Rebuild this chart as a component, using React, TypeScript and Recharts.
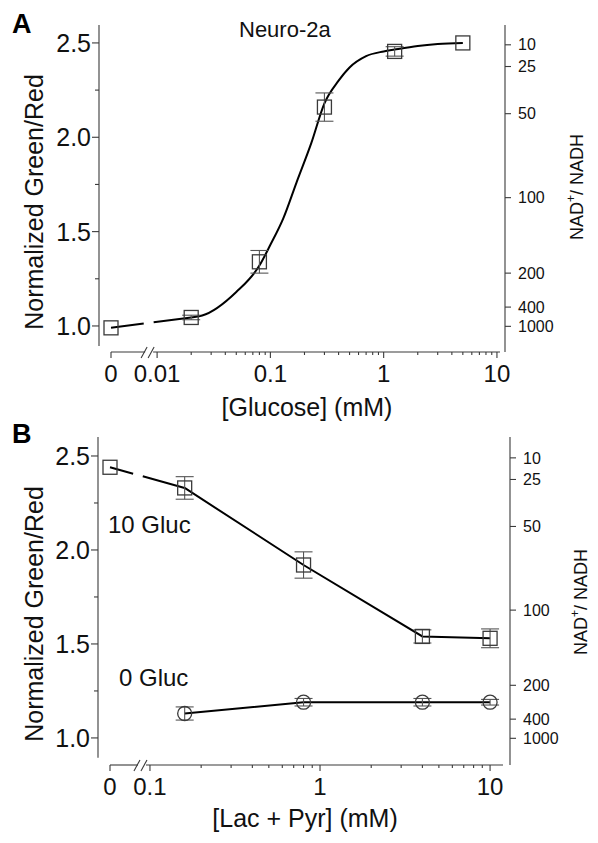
import React from "react";
import {
  ComposedChart,
  Line,
  Scatter,
  ErrorBar,
  XAxis,
  YAxis,
  ReferenceLine,
} from "recharts";

const FONT = '"Liberation Sans", Arial, Helvetica, sans-serif';
const AXIS = "#3a3a3a";
const INK = "#111";

// Panel A – Neuro-2a, glucose titration
const glucoseMM = [0, 0.02, 0.08, 0.3, 1.25, 5];
const glucoseRatio = [0.99, 1.045, 1.34, 2.16, 2.455, 2.5];
const glucoseErr = [0, 0.012, 0.06, 0.075, 0.025, 0];
const glucoseFitMM = [0.02, 0.025, 0.05, 0.08, 0.1, 0.13, 0.17, 0.23, 0.3, 0.4, 0.5, 0.7, 1, 1.25, 2, 3, 5];
const glucoseFitRatio = [1.045, 1.055, 1.18, 1.32, 1.43, 1.57, 1.76, 1.97, 2.18, 2.3, 2.37, 2.43, 2.455, 2.465, 2.484, 2.494, 2.5];
const glucoseMajors = [0, 0.01, 0.1, 1, 10];
const glucoseMajorLabels = ["0", "0.01", "0.1", "1", "10"];

// Panel B – lactate + pyruvate, with 10 mM or 0 glucose
const lacPyrMM = [0, 0.16, 0.8, 4, 10];
const gluc10Ratio = [2.44, 2.33, 1.92, 1.54, 1.53];
const gluc10Err = [0, 0.06, 0.07, 0.035, 0.05];
const gluc0MM = [0.16, 0.8, 4, 10];
const gluc0Ratio = [1.13, 1.19, 1.19, 1.19];
const gluc0Err = [0.035, 0.02, 0.02, 0.015];
const lacPyrMajors = [0, 0.1, 1, 10];
const lacPyrMajorLabels = ["0", "0.1", "1", "10"];

// y axes (shared by both panels)
const ratioTicks = [1.0, 1.25, 1.5, 1.75, 2.0, 2.25, 2.5];
const nadTickAt = [2.49, 2.375, 2.125, 1.68, 1.28, 1.1, 0.998];
const nadLabels = ["10", "25", "50", "100", "200", "400", "1000"];

type Row = { pos: number; y: number; err: number };

const near = (a: number, b: number) => Math.abs(a - b) < 1e-6;

interface MarkerSet {
  shape: "square" | "circle";
  mm: number[];
  ratio: number[];
  err: number[];
}

interface PathSet {
  mm: number[];
  ratio: number[];
  dash?: string;
  curve?: "monotone" | "linear";
}

interface PanelProps {
  height: number;
  plot: { left: number; right: number; top: number; bottom: number };
  zeroPos: number;
  endPos: number;
  padL: number;
  padR: number;
  yDomain: [number, number];
  yAxisEnd: number;
  majors: number[];
  majorLabels: string[];
  markers: MarkerSet[];
  paths: PathSet[];
}

function Panel(p: PanelProps) {
  const W = 598;
  const pos = (x: number) => (x === 0 ? p.zeroPos : Math.log10(x));
  const pxPerUnit = (p.plot.right - p.plot.left - p.padL - p.padR) / (p.endPos - p.zeroPos);

  // broken log axis: 0, a "//" break, then decades with 2..9 minor ticks
  const positive = p.majors.filter((m) => m > 0);
  const breakPos = Math.log10(positive[0]) - 8 / pxPerUnit;
  const gap = 4 / pxPerUnit;
  const minors: number[] = [];
  positive.slice(0, -1).forEach((m) => {
    for (let k = 2; k <= 9; k++) minors.push(Math.log10(m * k));
  });
  const majorPos = p.majors.map(pos);
  const xTicks = [...majorPos, breakPos, ...minors].sort((a, b) => a - b);

  const leftEdge = p.zeroPos - p.padL / pxPerUnit;
  const [yMin, yMax] = p.yDomain;

  const rows = (mm: number[], ratio: number[], err?: number[]): Row[] =>
    mm.map((x, i) => ({ pos: pos(x), y: ratio[i], err: err ? err[i] : 0 }));

  const renderXTick = (props: any) => {
    const { x, y, payload } = props;
    const v = payload.value;
    if (near(v, breakPos)) {
      return (
        <g stroke={AXIS} strokeWidth={1.1}>
          <line x1={x - 8} y1={y + 6} x2={x - 2} y2={y - 5} />
          <line x1={x - 1} y1={y + 6} x2={x + 5} y2={y - 5} />
        </g>
      );
    }
    const mi = majorPos.findIndex((m) => near(m, v));
    if (mi >= 0) {
      return (
        <g>
          <line x1={x} x2={x} y1={y} y2={y + 6} stroke={AXIS} strokeWidth={1.1} />
          <text x={x} y={y + 30} textAnchor="middle" fontSize={24} fontFamily={FONT} fill={INK}>
            {p.majorLabels[mi]}
          </text>
        </g>
      );
    }
    return <line x1={x} x2={x} y1={y} y2={y + 3} stroke={AXIS} strokeWidth={1.1} />;
  };

  const renderLeftTick = (props: any) => {
    const { x, y, payload } = props;
    const v = payload.value;
    const major = near(v * 2, Math.round(v * 2));
    return (
      <g>
        <line x1={x - (major ? 7 : 4)} x2={x} y1={y} y2={y} stroke={AXIS} strokeWidth={1.1} />
        {major && (
          <text x={x - 8} y={y} dy="0.36em" textAnchor="end" fontSize={25} fontFamily={FONT} fill={INK}>
            {v.toFixed(1)}
          </text>
        )}
      </g>
    );
  };

  const squareShape = (props: any) => (
    <rect x={props.cx - 7} y={props.cy - 7} width={14} height={14} fill="none" stroke={AXIS} strokeWidth={1.3} />
  );
  const circleShape = (props: any) => (
    <circle cx={props.cx} cy={props.cy} r={7} fill="none" stroke={AXIS} strokeWidth={1.3} />
  );

  return (
    <ComposedChart
      width={W}
      height={p.height}
      margin={{
        top: p.plot.top,
        bottom: p.height - p.plot.bottom - 60,
        left: p.plot.left - 60,
        right: W - p.plot.right - 60,
      }}
    >
      <XAxis
        type="number"
        dataKey="pos"
        domain={[p.zeroPos, p.endPos]}
        padding={{ left: p.padL, right: p.padR }}
        ticks={xTicks}
        interval={0}
        tickSize={0}
        tickMargin={0}
        axisLine={false}
        tickLine={false}
        tick={renderXTick}
        height={60}
      />
      <YAxis
        yAxisId="left"
        type="number"
        domain={p.yDomain}
        ticks={ratioTicks}
        interval={0}
        tickSize={0}
        tickMargin={0}
        axisLine={false}
        tickLine={false}
        tick={renderLeftTick}
        width={60}
      />
      {/* NAD+/NADH scale: no series of its own, same domain as the ratio axis */}
      <YAxis
        yAxisId="right"
        orientation="right"
        type="number"
        domain={p.yDomain}
        allowDataOverflow
        ticks={nadTickAt}
        interval={0}
        tickSize={6}
        tickMargin={7}
        axisLine={{ stroke: AXIS, strokeWidth: 1.1 }}
        tickLine={{ stroke: AXIS, strokeWidth: 1.1 }}
        tick={{ fontSize: 16, fill: INK, fontFamily: FONT }}
        tickFormatter={(v: number) => nadLabels[nadTickAt.findIndex((t) => near(t, v))]}
        width={60}
      />

      {/* offset axis lines: left axis stops short of the broken x axis */}
      <ReferenceLine
        yAxisId="left"
        ifOverflow="visible"
        segment={[
          { x: leftEdge, y: p.yAxisEnd },
          { x: leftEdge, y: yMax },
        ]}
        stroke={AXIS}
        strokeWidth={1.1}
      />
      <ReferenceLine
        yAxisId="left"
        ifOverflow="visible"
        segment={[
          { x: p.zeroPos, y: yMin },
          { x: breakPos - gap, y: yMin },
        ]}
        stroke={AXIS}
        strokeWidth={1.1}
      />
      <ReferenceLine
        yAxisId="left"
        ifOverflow="visible"
        segment={[
          { x: breakPos + gap, y: yMin },
          { x: p.endPos, y: yMin },
        ]}
        stroke={AXIS}
        strokeWidth={1.1}
      />

      {p.paths.map((s, i) => (
        <Line
          key={`path-${i}`}
          yAxisId="left"
          data={rows(s.mm, s.ratio)}
          dataKey="y"
          type={s.curve ?? "linear"}
          stroke="#000"
          strokeWidth={2}
          strokeDasharray={s.dash}
          dot={false}
          activeDot={false}
          isAnimationActive={false}
        />
      ))}

      {p.markers.map((m, i) => (
        <Scatter
          key={`mk-${i}`}
          yAxisId="left"
          data={rows(m.mm, m.ratio, m.err)}
          dataKey="y"
          shape={m.shape === "square" ? squareShape : circleShape}
          isAnimationActive={false}
        >
          <ErrorBar dataKey="err" direction="y" width={9} stroke="#555" strokeWidth={1.1} />
        </Scatter>
      ))}
    </ComposedChart>
  );
}

function RotatedTitle({ x, y, size, children }: { x: number; y: number; size: number; children: React.ReactNode }) {
  return (
    <text x={x} y={y} transform={`rotate(-90 ${x} ${y})`} textAnchor="middle" fontSize={size} fontFamily={FONT} fill={INK}>
      {children}
    </text>
  );
}

function NadTitle({ x, y }: { x: number; y: number }) {
  return (
    <RotatedTitle x={x} y={y} size={18}>
      NAD
      <tspan fontSize={12} dy={-8}>+</tspan>
      <tspan dy={8}>/ NADH</tspan>
    </RotatedTitle>
  );
}

export default function App() {
  return (
    <div style={{ position: "absolute", left: 0, top: 0, width: 598, height: 843, background: "#fff" }}>
      <div style={{ position: "absolute", left: 0, top: 0 }}>
        <Panel
          height={420}
          plot={{ left: 99, right: 505, top: 25, bottom: 352 }}
          zeroPos={-2.407}
          endPos={1.027}
          padL={12}
          padR={5}
          yDomain={[0.862, 2.595]}
          yAxisEnd={0.894}
          majors={glucoseMajors}
          majorLabels={glucoseMajorLabels}
          paths={[
            { mm: glucoseMM.slice(0, 2), ratio: glucoseRatio.slice(0, 2), dash: "33 10 200" },
            { mm: glucoseFitMM, ratio: glucoseFitRatio, curve: "monotone" },
          ]}
          markers={[{ shape: "square", mm: glucoseMM, ratio: glucoseRatio, err: glucoseErr }]}
        />
      </div>
      <div style={{ position: "absolute", left: 0, top: 420 }}>
        <Panel
          height={423}
          plot={{ left: 98, right: 510, top: 17, bottom: 345 }}
          zeroPos={-1.235}
          endPos={1.076}
          padL={12}
          padR={7}
          yDomain={[0.856, 2.601]}
          yAxisEnd={0.894}
          majors={lacPyrMajors}
          majorLabels={lacPyrMajorLabels}
          paths={[
            { mm: lacPyrMM.slice(0, 2), ratio: gluc10Ratio.slice(0, 2), dash: "24 10 200" },
            { mm: lacPyrMM.slice(1), ratio: gluc10Ratio.slice(1) },
            { mm: gluc0MM, ratio: gluc0Ratio },
          ]}
          markers={[
            { shape: "square", mm: lacPyrMM, ratio: gluc10Ratio, err: gluc10Err },
            { shape: "circle", mm: gluc0MM, ratio: gluc0Ratio, err: gluc0Err },
          ]}
        />
      </div>

      <svg width={598} height={843} style={{ position: "absolute", left: 0, top: 0, pointerEvents: "none" }}>
        <text x={12} y={33} fontSize={27} fontWeight="bold" fontFamily={FONT} fill="#000">A</text>
        <text x={239} y={37} fontSize={22} fontFamily={FONT} fill={INK}>Neuro-2a</text>
        <RotatedTitle x={43} y={202} size={25}>Normalized Green/Red</RotatedTitle>
        <NadTitle x={583} y={187} />
        <text x={307} y={416} textAnchor="middle" fontSize={25} fontFamily={FONT} fill={INK}>[Glucose] (mM)</text>

        <text x={12} y={443} fontSize={27} fontWeight="bold" fontFamily={FONT} fill="#000">B</text>
        <text x={108} y={533} fontSize={24} fontFamily={FONT} fill={INK}>10 Gluc</text>
        <text x={119} y={686} fontSize={24} fontFamily={FONT} fill={INK}>0 Gluc</text>
        <RotatedTitle x={43} y={614} size={25}>Normalized Green/Red</RotatedTitle>
        <NadTitle x={587} y={602} />
        <text x={305} y={827} textAnchor="middle" fontSize={25} fontFamily={FONT} fill={INK}>[Lac + Pyr] (mM)</text>
      </svg>
    </div>
  );
}
